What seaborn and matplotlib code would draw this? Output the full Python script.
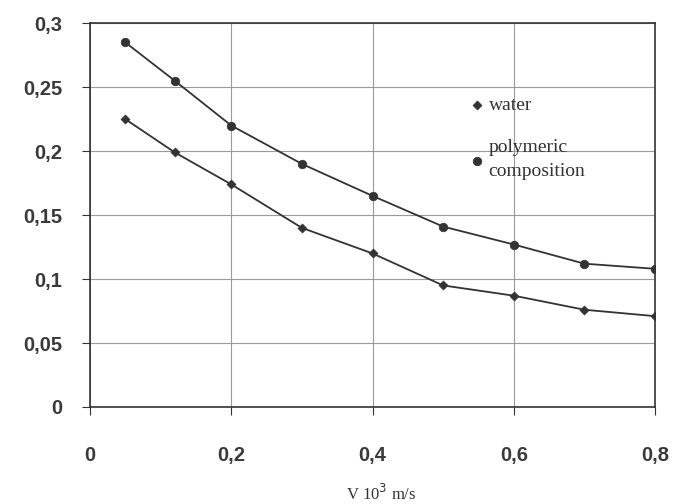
import numpy as np
import pandas as pd
import seaborn as sns
import matplotlib.pyplot as plt

sns.set_style("ticks")
plt.rcParams['font.family'] = ['Liberation Sans', 'DejaVu Sans']

velocity = [0.05, 0.12, 0.2, 0.3, 0.4, 0.5, 0.6, 0.7, 0.8]
water = [0.225, 0.199, 0.174, 0.140, 0.120, 0.095, 0.087, 0.076, 0.071]
polymeric = [0.285, 0.255, 0.220, 0.190, 0.165, 0.141, 0.127, 0.112, 0.108]

df_w = pd.DataFrame({"v": velocity, "y": water})
df_p = pd.DataFrame({"v": velocity, "y": polymeric})

ink = "#333333"
fig, ax = plt.subplots(figsize=(6.74, 5.04), dpi=100)
fig.subplots_adjust(left=0.1335, right=0.972, top=0.954, bottom=0.1925)

sns.lineplot(data=df_p, x="v", y="y", color=ink, lw=1.3, ax=ax)
sns.lineplot(data=df_w, x="v", y="y", color=ink, lw=1.3, ax=ax)
sns.scatterplot(data=df_w, x="v", y="y", marker="D", s=22, color=ink,
                edgecolor=ink, label="water", ax=ax, zorder=3)
sns.scatterplot(data=df_p, x="v", y="y", marker="o", s=38, color=ink,
                edgecolor=ink, label="polymeric\ncomposition", ax=ax, zorder=3)

ax.set_xlim(0, 0.8)
ax.set_ylim(0, 0.3)
ax.set_xticks([0, 0.2, 0.4, 0.6, 0.8])
ax.set_yticks([0, 0.05, 0.1, 0.15, 0.2, 0.25, 0.3])
ax.set_xticklabels(["0", "0,2", "0,4", "0,6", "0,8"])
ax.set_yticklabels(["0", "0,05", "0,1", "0,15", "0,2", "0,25", "0,3"])
ax.grid(True, color="#9a9a9a", lw=0.8)
for s in ax.spines.values():
    s.set_visible(True)
    s.set_color(ink)
    s.set_linewidth(1.2)
ax.tick_params(axis="both", colors=ink, labelsize=14.5, length=6, width=0.8)
ax.tick_params(axis="x", pad=22)
ax.tick_params(axis="y", pad=14)
for lab in ax.get_xticklabels() + ax.get_yticklabels():
    lab.set_fontweight("bold")
    lab.set_color("#3a3a3a")

ax.set_ylabel("")
ax.set_xlabel("V 10$^3$ m/s", family="Liberation Serif", fontsize=12,
              color=ink)
ax.xaxis.set_label_coords(0.515, -0.2)

leg = ax.legend(loc="upper left", bbox_to_anchor=(0.64, 0.855), frameon=False,
                prop={"family": "Liberation Serif", "size": 14},
                handletextpad=0.2, labelspacing=1.3, handlelength=0.8,
                labelcolor=ink)
for t in leg.get_texts():
    t.set_linespacing(1.5)

fig.savefig("out.png", dpi=100, facecolor="white")
